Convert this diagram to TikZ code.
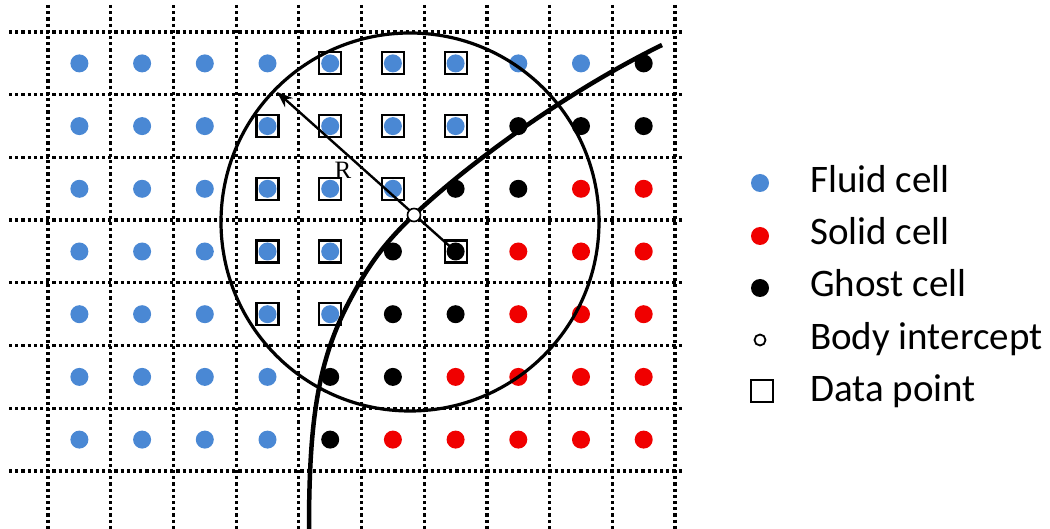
\documentclass[tikz,border=0pt]{standalone}
\usepackage{fontspec}
\setmainfont{Carlito}
\newfontfamily\serifR{Liberation Serif}
\usetikzlibrary{arrows.meta}

\definecolor{fluidblue}{RGB}{74,136,212}
\definecolor{solidred}{RGB}{240,0,0}

\begin{document}
\begin{tikzpicture}[x=1pt, y=-1pt,
    gridline/.style={line width=3.2pt, dash pattern=on 3.2pt off 3pt},
    cell/.style={circle, inner sep=0pt, minimum size=18pt},
    cellF/.style={cell, fill=fluidblue},
    cellS/.style={cell, fill=solidred},
    cellG/.style={cell, fill=black},
    datapt/.style={draw, line width=2.2pt, inner sep=0pt, minimum size=22pt},
    icept/.style={circle, draw, fill=white, line width=1.6pt, inner sep=0pt, minimum size=13pt},
    legtext/.style={anchor=base west, inner sep=0pt, font=\fontsize{39}{47}\selectfont}]

  \useasboundingbox (0,0) rectangle (1050,529);

  % Grid
  \foreach \i in {0,...,10}
    \draw[gridline] ({48+62.7*\i},5) -- ({48+62.7*\i},529);
  \foreach \j in {0,...,7}
    \draw[gridline] (9,{32+62.7*\j}) -- (682,{32+62.7*\j});

  % Cells
  \foreach \row [count=\j from 0] in {{F,F,F,F,F,F,F,F,F,G},
                                      {F,F,F,F,F,F,F,G,G,G},
                                      {F,F,F,F,F,F,G,G,S,S},
                                      {F,F,F,F,F,G,G,S,S,S},
                                      {F,F,F,F,F,G,G,S,S,S},
                                      {F,F,F,F,G,G,S,S,S,S},
                                      {F,F,F,F,G,S,S,S,S,S}}
    \foreach \t [count=\i from 0] in \row
      \node[cell\t] (c\i-\j) at ({79.4+62.7*\i},{63.4+62.7*\j}) {};

  % Data points
  \foreach \i/\j in {4/0,5/0,6/0,3/1,4/1,5/1,6/1,3/2,4/2,5/2,3/3,4/3,6/3,3/4,4/4}
    \node[datapt] (d\i-\j) at (c\i-\j) {};

  % Search circle and body
  \node[circle, draw, line width=3.2pt, inner sep=0pt, minimum size=378pt] (srch) at (410,222) {};
  \coordinate (bip) at (414,215);
  \draw[line width=4.5pt] (309,529) .. controls (309,420) and (318,360) .. (350,300)
    .. controls (366,270) and (381,246) .. (bip)
    .. controls (480,153) and (580,85) .. (662,45);

  % Radius
  \coordinate (rtip) at (277,92);
  \draw[line width=2.4pt, -{Stealth[length=16pt, width=12pt]}] (c6-3.center) -- (rtip);
  \node[icept] (bi) at (bip) {};
  \node[font=\serifR\fontsize{25}{30}\selectfont] (rlab) at (343,170) {R};

  % Legend
  \node[cellF] (kF) at (760,183) {};
  \node[cellS] (kS) at (760,236) {};
  \node[cellG] (kG) at (760,288) {};
  \node[icept, minimum size=11pt, line width=1.8pt] (kB) at (760,340) {};
  \node[datapt, line width=1.8pt] (kD) at (762,391) {};
  \node[legtext] (tF) at (810,193) {Fluid cell};
  \node[legtext] (tS) at (810,245) {Solid cell};
  \node[legtext] (tG) at (810,297) {Ghost cell};
  \node[legtext] (tB) at (810,350) {Body intercept};
  \node[legtext] (tD) at (810,402) {Data point};
\end{tikzpicture}
\end{document}
